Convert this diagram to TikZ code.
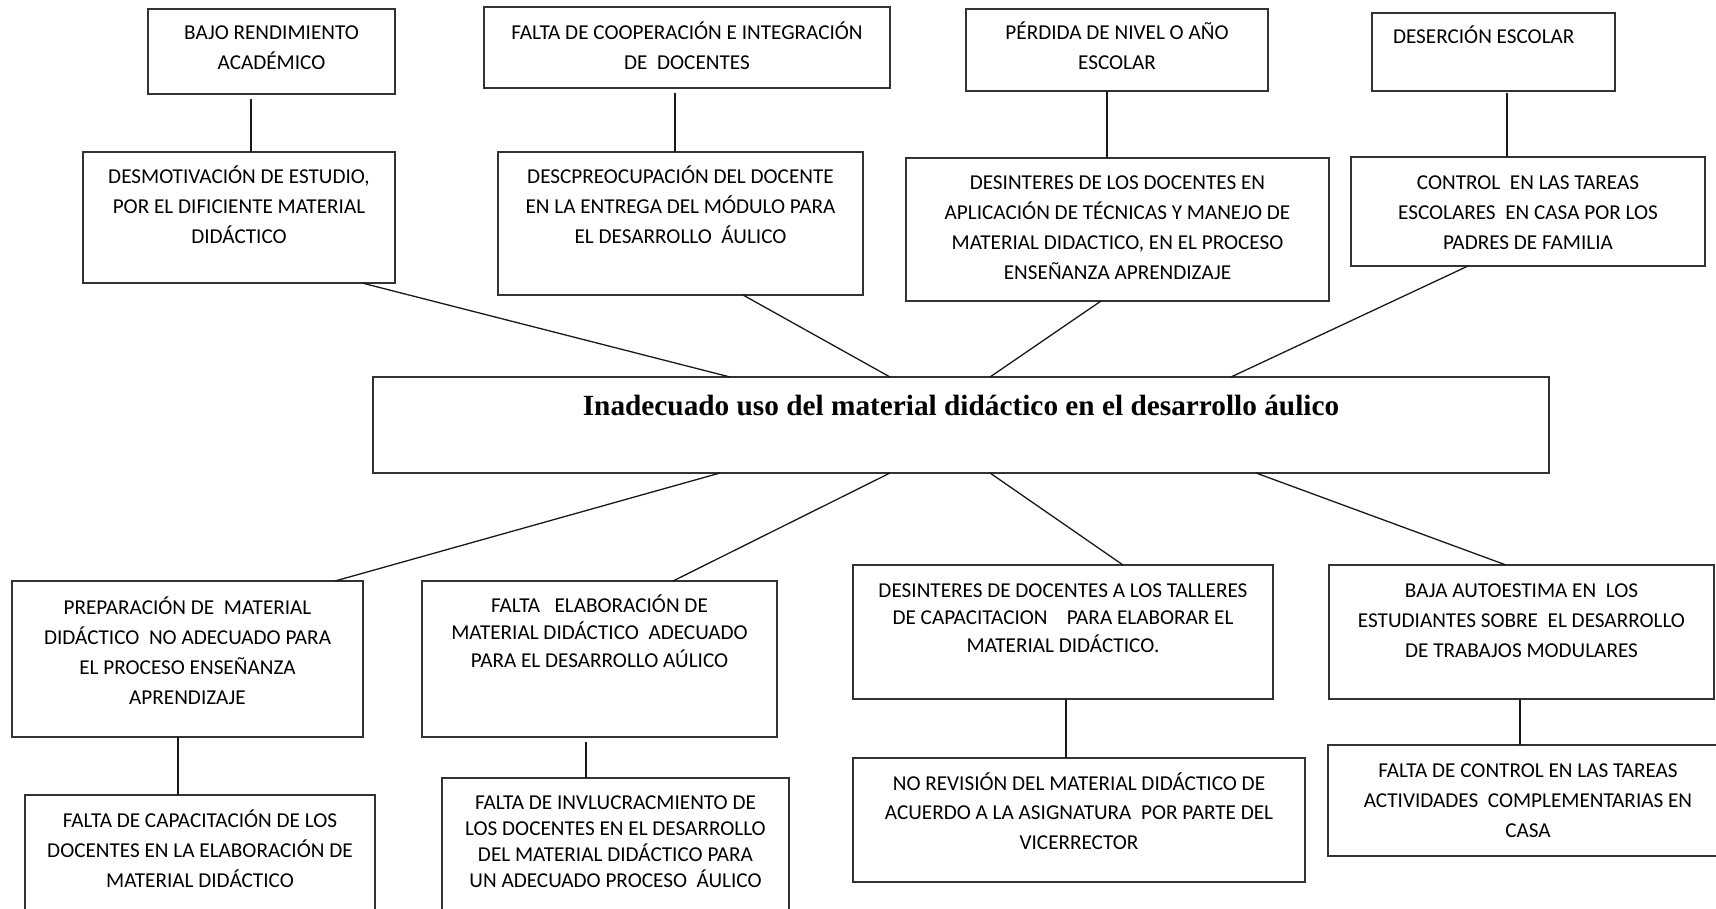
\documentclass[tikz,border=0pt]{standalone}
\usepackage{fontspec}
\setmainfont{Carlito}
\newfontfamily\titlefont{Liberation Serif}
\usetikzlibrary{calc}
\tikzset{
  box/.style={draw=black!80, line width=1.6pt, inner sep=0pt, outer sep=0pt, anchor=north west},
  conn/.style={line width=1.3pt, black!90}
}
% name, x1, y1, x2, y2, first-baseline offset, line skip, text
\newcommand\mybox[8]{%
  \node[box] (#1) at (#2,-#3) {\parbox[c][\dimexpr#5pt-#3pt\relax][t]{\dimexpr#4pt-#2pt\relax}{\centering\fontsize{21.2}{#7}\selectfont\rule{0pt}{#6pt}#8}};}
\begin{document}
\begin{tikzpicture}[x=1pt,y=1pt]
\useasboundingbox (0,0) rectangle (1716,-909);
\clip (0,0) rectangle (1716,-909);
\fill[white] (0,0) rectangle (1716,-909);

% top row (effects)
\mybox{bajo}{148}{9}{395}{94}{31}{30}{BAJO RENDIMIENTO\\ACADÉMICO}
\mybox{coop}{484}{7}{890}{88}{33}{30}{FALTA DE COOPERACIÓN E INTEGRACIÓN\\DE\ \ DOCENTES}
\mybox{perdida}{966}{9}{1268}{91}{31}{30}{PÉRDIDA DE NIVEL O AÑO\\ESCOLAR}
\mybox{desercion}{1372}{13}{1615}{91}{31}{30}{\makebox[\linewidth][l]{\hspace{21pt}DESERCIÓN ESCOLAR}}

% second row
\mybox{desmot}{83}{152}{395}{283}{32}{30}{DESMOTIVACIÓN DE ESTUDIO,\\POR EL DIFICIENTE MATERIAL\\DIDÁCTICO}
\mybox{descp}{498}{152}{863}{295}{32}{30}{DESCPREOCUPACIÓN DEL DOCENTE\\EN LA ENTREGA DEL MÓDULO PARA\\EL DESARROLLO\ \ ÁULICO}
\mybox{desint}{906}{158}{1329}{301}{32}{30}{DESINTERES DE LOS DOCENTES EN\\APLICACIÓN DE TÉCNICAS Y MANEJO DE\\MATERIAL DIDACTICO, EN EL PROCESO\\ENSEÑANZA APRENDIZAJE}
\mybox{control}{1351}{157}{1705}{266}{33}{30}{CONTROL\ \ EN LAS TAREAS\\ESCOLARES\ \ EN CASA POR LOS\\PADRES DE FAMILIA}

% central problem
\node[box] (central) at (373,-377) {\parbox[c][96pt][t]{1176pt}{\centering\titlefont\bfseries\fontsize{29.3}{34}\selectfont\rule{0pt}{38pt}Inadecuado uso del material didáctico en el desarrollo áulico}};

% causes
\mybox{prep}{12}{581}{363}{737}{33}{30}{PREPARACIÓN DE\ \ MATERIAL\\DIDÁCTICO\ \ NO ADECUADO PARA\\EL PROCESO ENSEÑANZA\\APRENDIZAJE}
\mybox{elab}{422}{581}{777}{737}{31}{27.5}{FALTA\ \ \ ELABORACIÓN DE\\MATERIAL DIDÁCTICO\ \ ADECUADO\\PARA EL DESARROLLO AÚLICO}
\mybox{talleres}{853}{565}{1273}{699}{32}{27.5}{DESINTERES DE DOCENTES A LOS TALLERES\\DE CAPACITACION\ \ \ \ PARA ELABORAR EL\\MATERIAL DIDÁCTICO.}
\mybox{autoest}{1329}{565}{1714}{699}{32}{30}{BAJA AUTOESTIMA EN\ \ LOS\\ESTUDIANTES SOBRE\ \ EL DESARROLLO\\DE TRABAJOS MODULARES}

% root causes
\mybox{capac}{25}{795}{375}{930}{32}{30}{FALTA DE CAPACITACIÓN DE LOS\\DOCENTES EN LA ELABORACIÓN DE\\MATERIAL DIDÁCTICO}
\mybox{invol}{442}{778}{789}{930}{31}{26}{FALTA DE INVLUCRACMIENTO DE\\LOS DOCENTES EN EL DESARROLLO\\DEL MATERIAL DIDÁCTICO PARA\\UN ADECUADO PROCESO\ \ ÁULICO}
\mybox{revision}{853}{758}{1305}{882}{32}{29.5}{NO REVISIÓN DEL MATERIAL DIDÁCTICO DE\\ACUERDO A LA ASIGNATURA\ \ POR PARTE DEL\\VICERRECTOR}
\mybox{faltacontrol}{1328}{745}{1740}{856}{32}{30}{\hspace*{-12pt}FALTA DE CONTROL EN LAS TAREAS\\\hspace*{-12pt}ACTIVIDADES\ \ COMPLEMENTARIAS EN\\\hspace*{-12pt}CASA}

% vertical connectors
\draw[conn] ($(bajo.south)+(-20.5,-5)$) -- ($(bajo.south |- desmot.north)+(-20.5,0)$);
\draw[conn] ($(coop.south)+(-12,-5)$) -- ($(coop.south |- descp.north)+(-12,0)$);
\draw[conn] ($(perdida.south)+(-10,0)$) -- ($(perdida.south |- desint.north)+(-10,0)$);
\draw[conn] ($(desercion.south)+(13.5,-2)$) -- ($(desercion.south |- control.north)+(13.5,0)$);
\draw[conn] ($(prep.south)+(-9.5,0)$) -- ($(prep.south |- capac.north)+(-9.5,0)$);
\draw[conn] ($(elab.south)+(-13.5,-5)$) -- ($(elab.south |- invol.north)+(-13.5,0)$);
\draw[conn] ($(talleres.south)+(3,0)$) -- ($(talleres.south |- revision.north)+(3,0)$);
\draw[conn] ($(autoest.south)+(-1.5,0)$) -- ($(autoest.south |- faltacontrol.north)+(-1.5,0)$);

% diagonal connectors to the central problem
\draw[conn] ($(desmot.south)+(123,0)$) -- ($(central.north)+(-231,0)$);
\draw[conn] ($(descp.south)+(62.5,0)$) -- ($(central.north)+(-71,0)$);
\draw[conn] ($(desint.south)+(-16.5,0)$) -- ($(central.north)+(29,0)$);
\draw[conn] ($(control.south)+(-60,0)$) -- ($(central.north)+(270,0)$);
\draw[conn] ($(central.south)+(-241,0)$) -- ($(prep.north)+(147.5,0)$);
\draw[conn] ($(central.south)+(-71,0)$) -- ($(elab.north)+(73.5,0)$);
\draw[conn] ($(central.south)+(29,0)$) -- ($(talleres.north)+(60,0)$);
\draw[conn] ($(central.south)+(295,0)$) -- ($(autoest.north)+(-15.5,0)$);
\end{tikzpicture}
\end{document}
